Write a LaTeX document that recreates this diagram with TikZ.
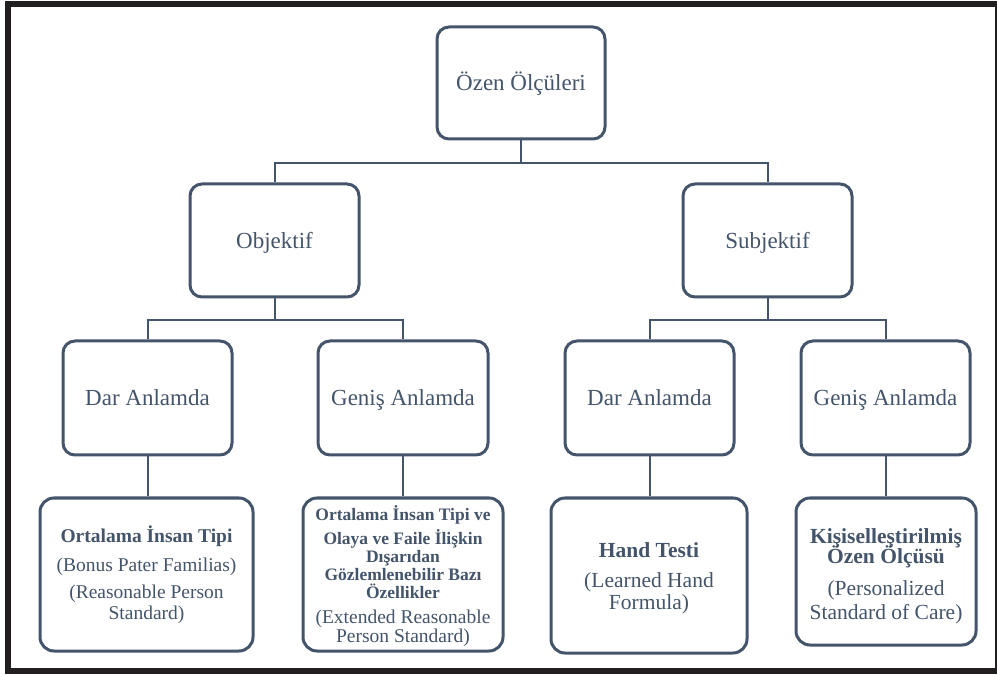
\documentclass[tikz,border=0pt]{standalone}
\usepackage{fontspec}
\setmainfont{Liberation Serif}
\definecolor{bx}{HTML}{44546A}
\definecolor{fr}{HTML}{231F20}
\begin{document}
\begin{tikzpicture}[x=1pt,y=-1pt,
  box/.style={draw=bx, line width=3pt, rounded corners=12pt, inner sep=0pt, align=flush center, text=bx},
  lvl/.style={box, font=\fontsize{23}{27}\selectfont, minimum width=169pt, minimum height=113pt,
    text height=16.5pt, text depth=0.5pt},
  leaf/.style={box, rounded corners=14pt, execute at begin node={\lineskiplimit=-100pt}},
  conn/.style={draw=bx, line width=2pt}]
\useasboundingbox (0,0) rectangle (997,676);
\draw[fr, line width=6pt] (8,4) rectangle (997.5,670.5);

\node[lvl, minimum width=168pt, minimum height=112pt] (top) at (521,83) {Özen Ölçüleri};
\node[lvl] (obj) at (274.5,240.5) {Objektif};
\node[lvl] (sub) at (767.5,240.5) {Subjektif};
\node[lvl, minimum height=114pt] (d1) at (147.5,398) {Dar Anlamda};
\node[lvl, minimum width=170pt, minimum height=114pt] (g1) at (403,398) {Geniş Anlamda};
\node[lvl, minimum height=114pt] (d2) at (649.5,398) {Dar Anlamda};
\node[lvl, minimum height=114pt] (g2) at (885.5,398) {Geniş Anlamda};

\node[leaf, minimum width=213pt, minimum height=153pt, text width=205pt,
      font=\fontsize{19.5}{20.5}\selectfont] (b1) at (146.5,574.5)
  {{\bfseries Ortalama İnsan Tipi\par}\vspace{9pt}(Bonus Pater Familias)\par\vspace{6.5pt}(Reasonable Person\\Standard)};
\node[leaf, minimum width=200pt, minimum height=153pt, text width=196pt,
      font=\fontsize{19.5}{19}\selectfont] (b2) at (403,574.5)
  {{\fontsize{17.5}{18}\selectfont\bfseries Ortalama İnsan Tipi ve\par}\vspace{6pt}{\fontsize{17.5}{18}\selectfont\bfseries Olaya ve Faile İlişkin\\Dışarıdan\\Gözlemlenebilir Bazı\\Özellikler\par}\vspace{5.5pt}(Extended Reasonable\\Person Standard)\par\vspace{-3pt}};
\node[leaf, minimum width=196pt, minimum height=155pt, text width=188pt,
      font=\fontsize{21.5}{22}\selectfont] (b3) at (649,575.5)
  {{\bfseries Hand Testi\par}\vspace{8pt}(Learned Hand\\Formula)\par\vspace{-6pt}};
\node[leaf, minimum width=180pt, minimum height=147pt, text width=174pt,
      font=\fontsize{21.5}{24}\selectfont] (b4) at (886,571.5)
  {{\fontsize{21.5}{20}\selectfont\bfseries Kişiselleştirilmiş\\Özen Ölçüsü\par}\vspace{8pt}(Personalized\\Standard of Care)\par\vspace{-10pt}};

\draw[conn] (top.south) -- ++(0,23) -| (obj.north);
\draw[conn] (top.south) -- ++(0,23) -| (sub.north);
\draw[conn] (obj.south) -- ++(0,22) -| (d1.north);
\draw[conn] (obj.south) -- ++(0,22) -| (g1.north);
\draw[conn] (sub.south) -- ++(0,22) -| (d2.north);
\draw[conn] (sub.south) -- ++(0,22) -| (g2.north);
\draw[conn] (d1.south) -- (d1.south |- b1.north);
\draw[conn] (g1.south) -- (g1.south |- b2.north);
\draw[conn] (d2.south) -- (d2.south |- b3.north);
\draw[conn] (g2.south) -- (g2.south |- b4.north);
\end{tikzpicture}
\end{document}
